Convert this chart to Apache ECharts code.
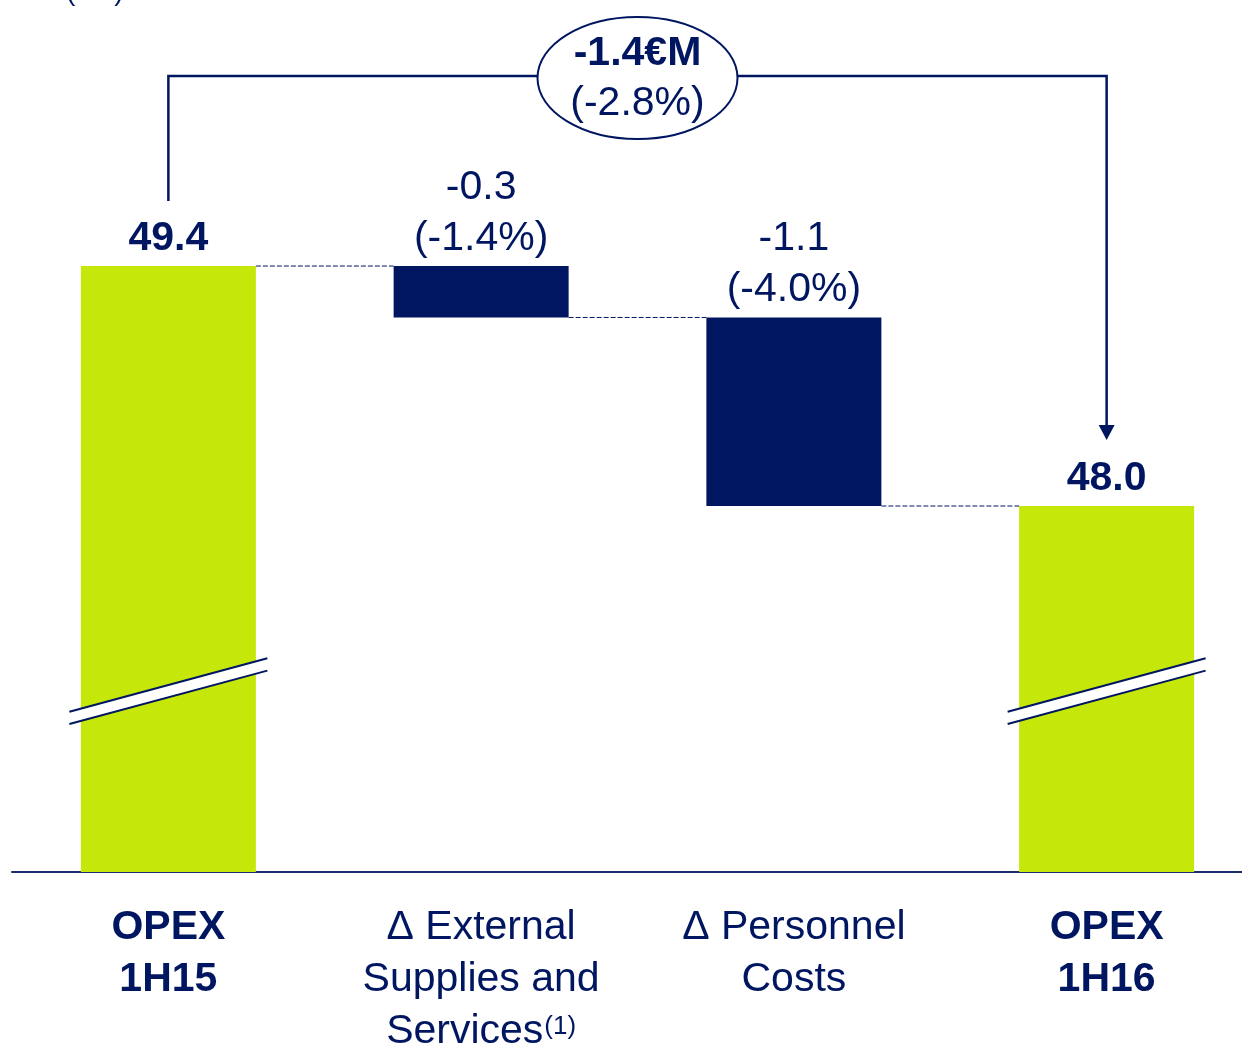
<!DOCTYPE html>
<html>
<head>
<meta charset="utf-8">
<title>OPEX 1H15 – 1H16</title>
<script src="https://cdn.jsdelivr.net/npm/echarts@6/dist/echarts.min.js"></script>
<style>
  html, body { margin: 0; padding: 0; background: #ffffff; }
  #chart { width: 1242px; height: 1046px; }
</style>
</head>
<body>
<div id="chart"></div>
<script>
// ---- Data (€M) ----
const categories = ['OPEX\n1H15', 'Δ External\nSupplies and\nServices', 'Δ Personnel\nCosts', 'OPEX\n1H16'];
const categoryFootnotes = ['', '(1)', '', ''];
const categoryIsTotal = [true, false, false, true];
const opexTotals = [49.4, 48.0];          // OPEX 1H15, OPEX 1H16
const deltaValues = [-0.3, -1.1];         // External supplies, personnel costs
const deltaPercents = [-1.4, -4.0];
const totalChange = -1.4;                 // €M
const totalChangePct = -2.8;              // %
const unitLabel = '(€M)';

// ---- Style ----
const NAVY = '#001660';
const LIME = '#c5e70a';
const AXIS = '#1c2b6b';
const FONT = "'Liberation Sans', Arial, Helvetica, sans-serif";
const BREAK_VALUE = 46.92;                // where the axis-break marks sit on the total bars

// ---- Waterfall series built from the data ----
const baseData = [], deltaData = [], totalData = [], levels = [];
let running = opexTotals[0];
let d = 0;
categoryIsTotal.forEach((isTotal, i) => {
  if (isTotal) {
    const v = i === 0 ? opexTotals[0] : opexTotals[1];
    running = v;
    baseData.push('-'); deltaData.push('-'); totalData.push(v);
  } else {
    const dv = deltaValues[d++];
    const next = +(running + dv).toFixed(2);
    baseData.push(Math.min(running, next));
    deltaData.push(+Math.abs(dv).toFixed(2));
    totalData.push('-');
    running = next;
  }
  levels.push(running);
});
const totalIdx = categoryIsTotal.map((t, i) => t ? i : -1).filter(i => i >= 0);
const deltaIdx = categoryIsTotal.map((t, i) => t ? -1 : i).filter(i => i >= 0);

const fmt = v => v.toFixed(1);
const BAR_W = 175;

const chart = echarts.init(document.getElementById('chart'), null, { renderer: 'canvas' });

const option = {
  backgroundColor: '#ffffff',
  animation: false,
  textStyle: { fontFamily: FONT },
  grid: { left: 12, top: 0, width: 1251, bottom: 174, containLabel: false, outerBoundsMode: 'none' },
  graphic: [{
    type: 'text', left: 66, top: -22,
    style: { text: unitLabel, font: '28px ' + FONT, fill: NAVY }
  }],
  xAxis: {
    type: 'category',
    data: categories,
    axisLine: { show: true, lineStyle: { color: AXIS, width: 2 } },
    axisTick: { show: false },
    axisLabel: {
      interval: 0,
      margin: 30,
      color: NAVY,
      hideOverlap: false,
      formatter: (value, index) => {
        const key = categoryIsTotal[index] ? 'b' : 'r';
        const lines = value.split('\n').map(l => `{${key}|${l}}`);
        if (categoryFootnotes[index]) {
          lines[lines.length - 1] += `{sup|${categoryFootnotes[index]}}`;
        }
        return lines.join('\n');
      },
      rich: {
        b: { fontFamily: FONT, fontSize: 41, fontWeight: 'bold', color: NAVY, lineHeight: 52 },
        r: { fontFamily: FONT, fontSize: 41, color: NAVY, lineHeight: 52 },
        sup: { fontFamily: FONT, fontSize: 26, color: NAVY, lineHeight: 42,
               padding: [0, 0, 10, 1], verticalAlign: 'middle' }
      }
    }
  },
  yAxis: {
    type: 'value',
    min: 45.865,
    max: 50.952,
    show: false,
    splitLine: { show: false }
  },
  series: [
    {
      name: 'base', type: 'bar', stack: 'w', barWidth: BAR_W,
      data: baseData,
      itemStyle: { color: 'transparent' },
      emphasis: { disabled: true }
    },
    {
      name: 'delta', type: 'bar', stack: 'w', barWidth: BAR_W,
      data: deltaData,
      itemStyle: { color: NAVY },
      label: {
        show: true, position: 'top', distance: 2,
        color: NAVY, fontFamily: FONT, fontSize: 41, lineHeight: 51,
        formatter: p => {
          const k = deltaIdx.indexOf(p.dataIndex);
          return `${fmt(deltaValues[k])}\n(${fmt(deltaPercents[k])}%)`;
        }
      }
    },
    {
      name: 'total', type: 'bar', stack: 'w', barWidth: BAR_W,
      data: totalData,
      itemStyle: { color: LIME },
      label: {
        show: true, position: 'top', distance: 7,
        color: NAVY, fontFamily: FONT, fontSize: 41, fontWeight: 'bold', lineHeight: 40,
        formatter: p => fmt(p.value)
      }
    },
    // dashed connectors between consecutive bars
    {
      name: 'connectors', type: 'custom', silent: true, z: 3,
      data: levels.slice(0, -1).map((lv, i) => [i, lv]),
      renderItem: (params, api) => {
        const i = api.value(0), lv = api.value(1);
        const a = api.coord([i, lv]);
        const b = api.coord([i + 1, lv]);
        return {
          type: 'line',
          shape: { x1: a[0] + BAR_W / 2, y1: a[1], x2: b[0] - BAR_W / 2, y2: b[1] },
          style: { stroke: NAVY, lineWidth: 1, lineDash: [5, 2] }
        };
      }
    },
    // axis-break marks across the total bars
    {
      name: 'breaks', type: 'custom', silent: true, z: 4,
      data: totalIdx.map(i => [i, BREAK_VALUE]),
      renderItem: (params, api) => {
        const c = api.coord([api.value(0), api.value(1)]);
        const half = 99, rise = 26.7, gap = 12.3;
        const xl = c[0] - half, xr = c[0] + half;
        const yl = c[1] + rise - gap / 2, yr = c[1] - rise - gap / 2;
        return {
          type: 'group',
          children: [
            { type: 'polygon', shape: { points: [[xl, yl], [xr, yr], [xr, yr + gap], [xl, yl + gap]] },
              style: { fill: '#ffffff' } },
            { type: 'line', shape: { x1: xl, y1: yl, x2: xr, y2: yr },
              style: { stroke: NAVY, lineWidth: 2 } },
            { type: 'line', shape: { x1: xl, y1: yl + gap, x2: xr, y2: yr + gap },
              style: { stroke: NAVY, lineWidth: 2 } }
          ]
        };
      }
    },
    // overall change bracket with arrow and ellipse callout
    {
      name: 'bracket', type: 'custom', silent: true, z: 5,
      data: [[totalIdx[0], opexTotals[0], totalIdx[1], opexTotals[1]]],
      renderItem: (params, api) => {
        const s = api.coord([api.value(0), api.value(1)]);
        const e = api.coord([api.value(2), api.value(3)]);
        const yTop = s[1] - 190;
        const yStart = s[1] - 65;
        const yTip = e[1] - 66;
        const headH = 15, headW = 8;
        const cx = (s[0] + e[0]) / 2, cy = yTop + 2;
        return {
          type: 'group',
          children: [
            { type: 'polyline',
              shape: { points: [[s[0], yStart], [s[0], yTop], [e[0], yTop], [e[0], yTip - headH]] },
              style: { stroke: NAVY, lineWidth: 2.5, fill: null } },
            { type: 'polygon',
              shape: { points: [[e[0] - headW, yTip - headH], [e[0] + headW, yTip - headH], [e[0], yTip]] },
              style: { fill: NAVY } },
            { type: 'ellipse', shape: { cx: cx, cy: cy, rx: 100, ry: 61 },
              style: { fill: '#ffffff', stroke: NAVY, lineWidth: 2 } },
            { type: 'text', x: cx, y: cy - 24,
              style: { text: `${fmt(totalChange)}€M`, align: 'center', verticalAlign: 'middle',
                       fontFamily: FONT, fontSize: 41, fontWeight: 'bold', fill: NAVY } },
            { type: 'text', x: cx, y: cy + 26,
              style: { text: `(${fmt(totalChangePct)}%)`, align: 'center', verticalAlign: 'middle',
                       fontFamily: FONT, fontSize: 41, fill: NAVY } }
          ]
        };
      }
    }
  ]
};

chart.setOption(option);
</script>
</body>
</html>
